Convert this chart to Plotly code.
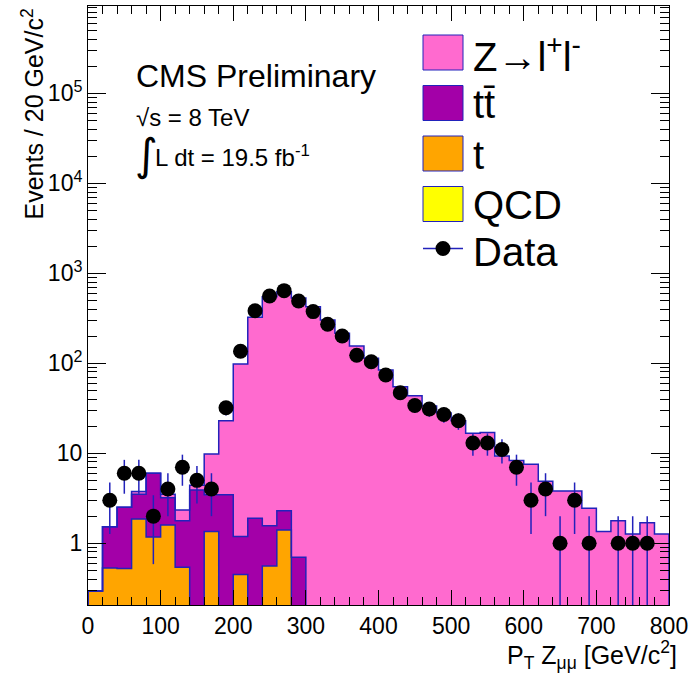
import math
import plotly.graph_objects as go

# ---------------- data ----------------
bin_low = [0, 20, 40, 60, 80, 100, 120, 140, 160, 180,
           200, 220, 240, 260, 280, 300, 320, 340, 360, 380,
           400, 420, 440, 460, 480, 500, 520, 540, 560, 580,
           600, 620, 640, 660, 680, 700, 720, 740, 760, 780]
bin_width = 20

qcd = [0, 0, 0, 0, 0, 0, 0, 0, 0, 0,
       0, 0, 0, 0, 0, 0, 0, 0, 0, 0,
       0, 0, 0, 0, 0, 0, 0, 0, 0, 0,
       0, 0, 0, 0, 0, 0, 0, 0, 0, 0]

t_single = [0.295, 0.53, 0.525, 1.86, 1.17, 1.6, 0.54, 0, 1.35, 0,
            0.45, 0, 0.56, 1.4, 0, 0, 0, 0, 0, 0,
            0, 0, 0, 0, 0, 0, 0, 0, 0, 0,
            0, 0, 0, 0, 0, 0, 0, 0, 0, 0]

ttbar = [0, 1.0, 1.985, 1.64, 4.83, 1.61, 1.24, 3.9, 2.1, 3.45,
         0.74, 1.9, 1.0, 0.89, 0.70, 0, 0, 0, 0, 0,
         0, 0, 0, 0, 0, 0, 0, 0, 0, 0,
         0, 0, 0, 0, 0, 0, 0, 0, 0, 0]

zll = [0, 0, 0, 0.25, 0, 0.29, 0.56, 0.5, 6.35, 19.5,
       96.8, 322, 548, 623, 529, 425, 302, 216, 156, 114,
       84, 55, 43.6, 33.5, 28, 23, 16.7, 17, 9.3, 8.3,
       7.55, 4.9, 3.8, 3.8, 2.45, 1.35, 1.78, 1.27, 1.69, 1.27]

data = [0, 3, 6, 6, 2, 4, 7, 5, 4, 32,
        136, 384, 560, 641, 492, 375, 271, 201, 123, 104,
        74, 47, 34, 31, 27, 23, 13, 13, 11, 7,
        3, 4, 1, 3, 1, 0, 1, 1, 1, 0]

y_tickvals = [1, 10, 100, 1000, 10000, 100000]
y_ticktext = ["1", "10", "10<sup>2</sup>", "10<sup>3</sup>", "10<sup>4</sup>", "10<sup>5</sup>"]

legend_labels = ["Z\u2192l<sup>+</sup>l<sup>-</sup>", "tt\u0304", "t", "QCD"]

# ---------------- styles ----------------
PINK = "#FF6ACF"
PURPLE = "#A300A8"
ORANGE = "#FFA500"
YELLOW = "#FFFF00"
BLUE = "#2222BB"
FONT = "Liberation Sans, Arial, Helvetica, sans-serif"

W, H = 700, 673
L, R, T, B = 88, 669, 6, 605


def X(px):
    return (px - L) / (R - L)


def Y(py):
    return (B - py) / (B - T)


centers = [lo + bin_width / 2 for lo in bin_low]
edges = bin_low + [bin_low[-1] + bin_width]

fig = go.Figure()

# stacked fills (bottom to top)
for vals, col in [(qcd, YELLOW), (t_single, ORANGE), (ttbar, PURPLE), (zll, PINK)]:
    fig.add_trace(go.Bar(x=centers, y=vals, width=bin_width,
                         marker=dict(color=col, line=dict(width=0)),
                         hoverinfo="skip", showlegend=False))

# outlines of the cumulative stack levels
lvl_t = [a + b for a, b in zip(qcd, t_single)]
lvl_tt = [a + b for a, b in zip(lvl_t, ttbar)]
lvl_tot = [a + b for a, b in zip(lvl_tt, zll)]
FLOOR = 1e-3


def step_xy(level):
    vals = [v if v > 0 else FLOOR for v in level]
    xs = [edges[0]] + edges[:-1] + [edges[-1], edges[-1]]
    ys = [FLOOR] + vals + [vals[-1], FLOOR]
    return xs, ys


for lvl in (lvl_t, lvl_tt, lvl_tot):
    xs, ys = step_xy(lvl)
    fig.add_trace(go.Scatter(x=xs, y=ys, mode="lines", line=dict(color=BLUE, width=1.5, shape="hv"),
                             hoverinfo="skip", showlegend=False))

# data points
dx = [c for c, n in zip(centers, data) if n > 0]
dy = [n for n in data if n > 0]
err_up = [math.sqrt(n) for n in dy]
err_dn = [min(math.sqrt(n), n * 0.999) for n in dy]
fig.add_trace(go.Scatter(x=dx, y=dy, mode="markers",
                         marker=dict(size=15, color="black"),
                         error_y=dict(type="data", array=err_up, arrayminus=err_dn,
                                      color=BLUE, thickness=1.5, width=0),
                         showlegend=False))

fig.update_layout(
    width=W, height=H,
    margin=dict(l=L, r=W - R, t=T, b=H - B),
    barmode="stack", bargap=0,
    plot_bgcolor="white", paper_bgcolor="white",
    showlegend=False,
    font=dict(family=FONT, color="black"),
)

fig.update_xaxes(range=[0, 800], tickmode="linear", tick0=0, dtick=100,
                 ticks="inside", ticklen=15, tickwidth=1, tickcolor="black",
                 showline=True, linecolor="black", linewidth=1, mirror="allticks",
                 showgrid=False, zeroline=False, tickfont=dict(size=23, family=FONT),
                 minor=dict(ticks="inside", ticklen=8, tick0=0, dtick=20,
                            tickcolor="black", tickwidth=1, showgrid=False))

fig.update_yaxes(type="log", range=[math.log10(0.206), 5.97],
                 tickmode="array", tickvals=y_tickvals, ticktext=y_ticktext,
                 ticks="inside", ticklen=18, tickwidth=1, tickcolor="black",
                 showline=True, linecolor="black", linewidth=1, mirror="allticks",
                 showgrid=False, zeroline=False, tickfont=dict(size=23, family=FONT),
                 minor=dict(ticks="inside", ticklen=9, dtick="D1",
                            tickcolor="black", tickwidth=1, showgrid=False))

ann = []
shapes = []

# axis titles
ann.append(dict(text="Events / 20 GeV/c<sup>2</sup>", x=X(32), y=Y(7), xref="paper", yref="paper",
                xanchor="center", yanchor="top", textangle=-90, showarrow=False,
                font=dict(size=25, family=FONT)))
ann.append(dict(text="P<sub>T</sub> Z<sub>\u03bc\u03bc</sub> [GeV/c<sup>2</sup>]", x=X(679), y=Y(655),
                xref="paper", yref="paper", xanchor="right", yanchor="middle", showarrow=False,
                font=dict(size=25, family=FONT)))

# CMS labels
ann.append(dict(text="CMS Preliminary", x=X(134), y=Y(76), xref="paper", yref="paper",
                xanchor="left", yanchor="middle", showarrow=False, font=dict(size=32, family=FONT)))
ann.append(dict(text="\u221as = 8 TeV", x=X(134), y=Y(117), xref="paper", yref="paper",
                xanchor="left", yanchor="middle", showarrow=False, font=dict(size=24, family=FONT)))
ann.append(dict(text="\u222b", x=X(133), y=Y(154), xref="paper", yref="paper",
                xanchor="left", yanchor="middle", showarrow=False, font=dict(size=44, family="DejaVu Sans")))
ann.append(dict(text="L dt = 19.5 fb<sup>-1</sup>", x=X(153), y=Y(156), xref="paper", yref="paper",
                xanchor="left", yanchor="middle", showarrow=False, font=dict(size=24, family=FONT)))

# custom legend
legend_colors = [PINK, PURPLE, ORANGE, YELLOW]
row0, drow = 52.5, 50.5
bx0, bx1, bh = 423, 463, 35
for i, (lab, col) in enumerate(zip(legend_labels, legend_colors)):
    cy = row0 + i * drow
    shapes.append(dict(type="rect", xref="paper", yref="paper", x0=X(bx0), x1=X(bx1),
                       y0=Y(cy + bh / 2), y1=Y(cy - bh / 2), fillcolor=col,
                       line=dict(color=BLUE, width=1)))
    ann.append(dict(text=lab, x=X(471), y=Y(cy + 1), xref="paper", yref="paper",
                    xanchor="left", yanchor="middle", showarrow=False, font=dict(size=40, family=FONT)))
cy = row0 + 4 * drow - 6
shapes.append(dict(type="line", xref="paper", yref="paper", x0=X(bx0), x1=X(bx1),
                   y0=Y(cy), y1=Y(cy), line=dict(color=BLUE, width=1.5)))
shapes.append(dict(type="circle", xref="paper", yref="paper", xsizemode="pixel", ysizemode="pixel",
                   xanchor=X((bx0 + bx1) / 2), yanchor=Y(cy), x0=-7.5, x1=7.5, y0=-7.5, y1=7.5,
                   fillcolor="black", line=dict(color="black", width=0)))
ann.append(dict(text="Data", x=X(471), y=Y(cy + 3), xref="paper", yref="paper",
                xanchor="left", yanchor="middle", showarrow=False, font=dict(size=40, family=FONT)))

fig.update_layout(annotations=ann, shapes=shapes)

fig.write_html("out.html")
